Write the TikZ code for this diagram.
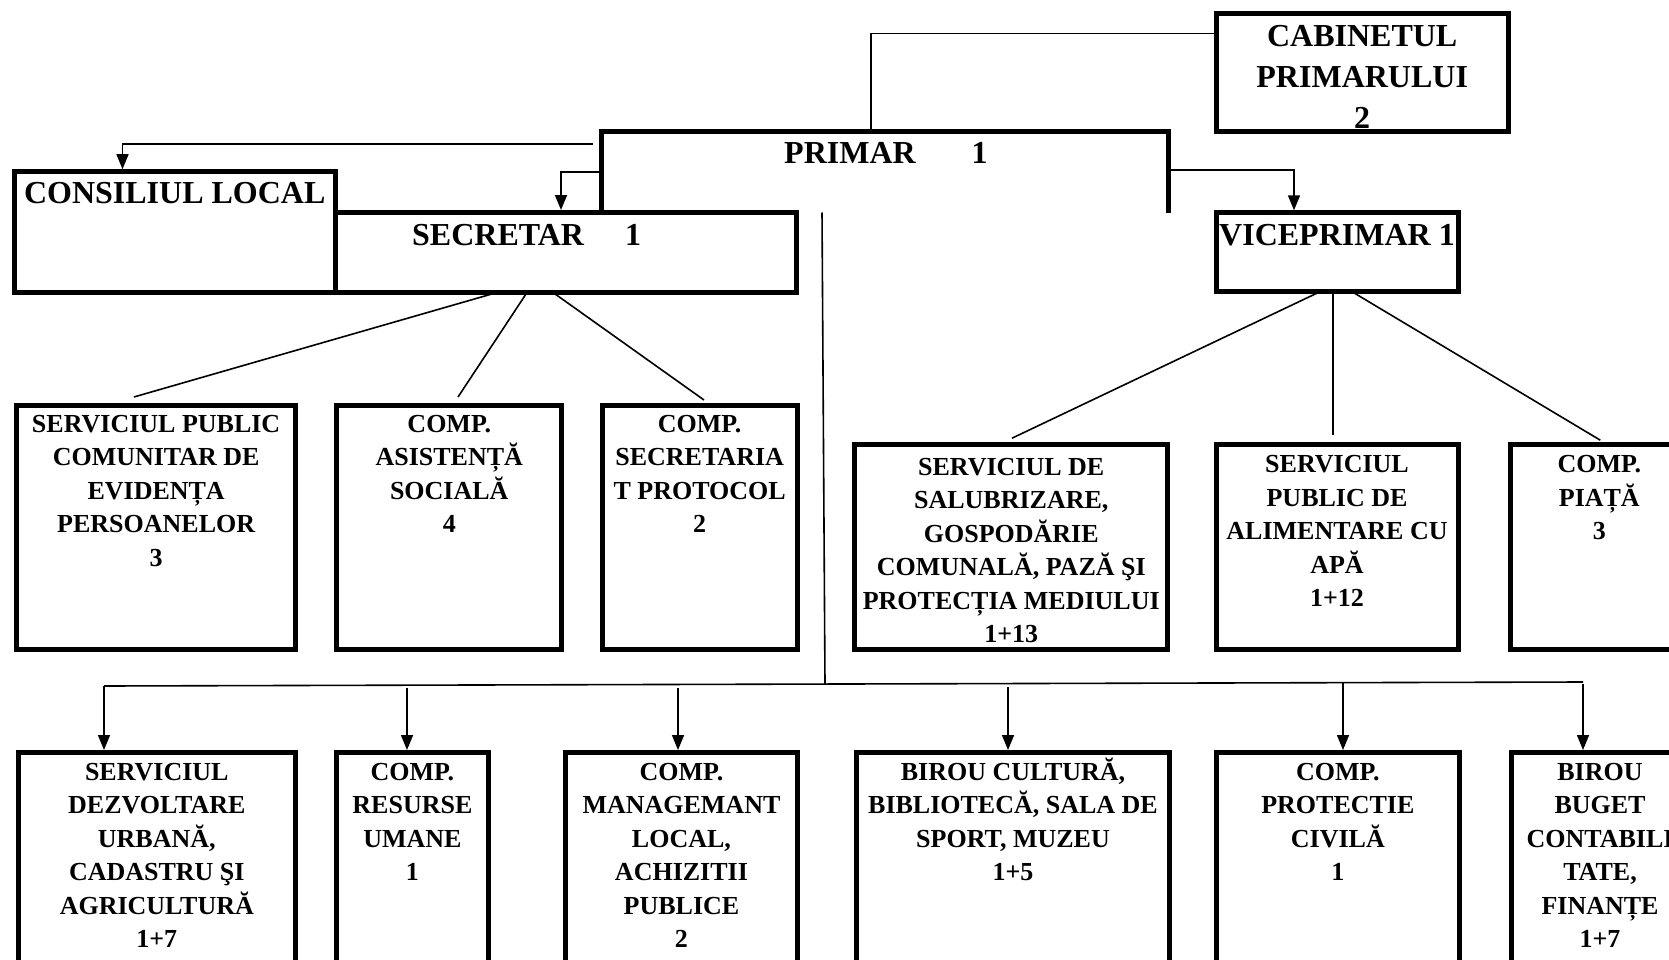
\documentclass[tikz,border=0pt]{standalone}
\usepackage{fontspec}
\setmainfont{Liberation Serif}
\usetikzlibrary{arrows.meta}
\begin{document}
\begin{tikzpicture}[x=1pt,y=-1pt,
  box/.style={draw, line width=5pt, inner sep=0pt, outer sep=0pt, anchor=north west},
  openbox/.style={inner sep=0pt, outer sep=0pt, anchor=north west},
  boxline/.style={line width=5pt},
  conn/.style={line width=1.6pt},
  arr/.style={line width=1.6pt, -{Triangle[length=15pt,width=12pt]}},
  big/.style={inner sep=0pt, anchor=north, align=center, font=\bfseries\fontsize{32}{41}\selectfont},
  small/.style={inner sep=0pt, anchor=north, align=center, font=\bfseries\fontsize{26}{33.5}\selectfont},
]
\useasboundingbox (0,0) rectangle (1669,960);
\fill[white] (0,0) rectangle (1669,960);
\clip (0,0) rectangle (1669,960);

% top level boxes
\node[box, minimum width=320.5pt, minimum height=120.8pt] (consiliul) at (14.5,171.7) {};
\node[box, minimum width=461pt, minimum height=80pt] (secretar) at (335,212.5) {};
\node[openbox, minimum width=567pt, minimum height=80.7pt] (primar) at (601,131.8) {};
\draw[boxline] (primar.south west) -- (primar.north west) -- (primar.north east) -- (primar.south east);
\node[box, minimum width=292.4pt, minimum height=118pt] (cabinet) at (1216,13.7) {};
\node[box, minimum width=242pt, minimum height=78.9pt] (vice) at (1216,212.8) {};

% second row
\node[box, minimum width=278.5pt, minimum height=244.7pt] (A) at (16.9,405) {};
\node[box, minimum width=225.3pt, minimum height=244.7pt] (B) at (336.6,405) {};
\node[box, minimum width=195.3pt, minimum height=244.7pt] (C) at (602,405) {};
\node[box, minimum width=313.3pt, minimum height=205.5pt] (D) at (854.6,444.2) {};
\node[box, minimum width=242pt, minimum height=205.5pt] (E) at (1216,444.2) {};
\node[box, minimum width=178pt, minimum height=205.5pt] (F) at (1510.3,444.2) {};

% bottom row
\node[box, minimum width=277.2pt, minimum height=240pt] (G) at (18.2,752.5) {};
\node[box, minimum width=151.6pt, minimum height=240pt] (H) at (336.6,752.5) {};
\node[box, minimum width=231.7pt, minimum height=240pt] (I) at (565.6,752.5) {};
\node[box, minimum width=312.4pt, minimum height=240pt] (J) at (856.8,752.5) {};
\node[box, minimum width=242.3pt, minimum height=240pt] (K) at (1216.7,752.5) {};
\node[box, minimum width=178pt, minimum height=240pt] (L) at (1511,752.5) {};

% texts
\node[big] (tCons) at ([yshift=-3pt]consiliul.north) {\strut CONSILIUL LOCAL};
\node[big, anchor=north west] (tSec) at ([xshift=77pt,yshift=-3.8pt]secretar.north west) {\strut SECRETAR\hspace*{41pt}1};
\node[big, anchor=north west] (tPrim) at ([xshift=183pt,yshift=-2.8pt]primar.north west) {\strut PRIMAR\hspace*{56pt}1};
\node[big] (tCab) at ([yshift=-3.6pt]cabinet.north) {\strut CABINETUL\\PRIMARULUI\\2};
\node[big] (tVice) at ([yshift=-3.5pt]vice.north) {\strut VICEPRIMAR 1};

\node[small] (tA) at ([yshift=-3.5pt]A.north) {\strut SERVICIUL PUBLIC\\COMUNITAR DE\\EVIDENȚA\\PERSOANELOR\\3};
\node[small] (tB) at ([yshift=-3.5pt]B.north) {\strut COMP.\\ASISTENȚĂ\\SOCIALĂ\\4};
\node[small] (tC) at ([yshift=-3.5pt]C.north) {\strut COMP.\\SECRETARIA\\T PROTOCOL\\2};
\node[small] (tD) at ([yshift=-7.3pt]D.north) {\strut SERVICIUL DE\\SALUBRIZARE,\\GOSPODĂRIE\\COMUNALĂ, PAZĂ ŞI\\PROTECȚIA MEDIULUI\\1+13};
\node[small] (tE) at ([yshift=-4.8pt]E.north) {\strut SERVICIUL\\PUBLIC DE\\ALIMENTARE CU\\APĂ\\1+12};
\node[small] (tF) at ([yshift=-4.8pt]F.north) {\strut COMP.\\PIAȚĂ\\3};

\node[small] (tG) at ([yshift=-4pt]G.north) {\strut SERVICIUL\\DEZVOLTARE\\URBANĂ,\\CADASTRU ŞI\\AGRICULTURĂ\\1+7};
\node[small] (tH) at ([yshift=-4pt]H.north) {\strut COMP.\\RESURSE\\UMANE\\1};
\node[small] (tI) at ([yshift=-4pt]I.north) {\strut COMP.\\MANAGEMANT\\LOCAL,\\ACHIZITII\\PUBLICE\\2};
\node[small] (tJ) at ([yshift=-4pt]J.north) {\strut BIROU CULTURĂ,\\BIBLIOTECĂ, SALA DE\\SPORT, MUZEU\\1+5};
\node[small] (tK) at ([yshift=-4pt]K.north) {\strut COMP.\\PROTECTIE\\CIVILĂ\\1};
\node[small] (tL) at ([yshift=-4pt]L.north) {\strut BIROU\\BUGET\\CONTABILI\\TATE,\\FINANȚE\\1+7};

% connectors from PRIMAR
\draw[conn] ([xshift=270pt]primar.north west) |- ([yshift=-20pt]cabinet.north west);
\draw[arr] ([xshift=-8pt,yshift=-12pt]primar.north west) -| ([xshift=108pt,yshift=2.5pt]consiliul.north west);
\draw[arr] ([yshift=-40pt]primar.north west) -| ([xshift=226pt,yshift=2.5pt]secretar.north west);
\draw[arr] ([yshift=-38pt]primar.north east) -| ([xshift=78pt,yshift=2.5pt]vice.north west);

% bus to bottom row
\coordinate (busL) at (104,686);
\coordinate (busR) at (1583,682);
\coordinate (busM) at (825,684.5);
\draw[conn] ([xshift=221pt]primar.south west) -- (busM);
\draw[conn] (busL) -- (busR);
\coordinate (gT) at ([xshift=85.8pt,yshift=2.5pt]G.north west);
\coordinate (hT) at ([xshift=70.4pt,yshift=2.5pt]H.north west);
\coordinate (iT) at ([xshift=112.4pt,yshift=2.5pt]I.north west);
\coordinate (jT) at ([xshift=151.2pt,yshift=2.5pt]J.north west);
\coordinate (kT) at ([xshift=126.3pt,yshift=2.5pt]K.north west);
\coordinate (lT) at ([xshift=72pt,yshift=2.5pt]L.north west);
\draw[arr] (gT |- busL) -- (gT);
\draw[arr] ([yshift=-2pt]hT |- busL) -- (hT);
\draw[arr] ([yshift=-2pt]iT |- busL) -- (iT);
\draw[arr] ([yshift=-2pt]jT |- busM) -- (jT);
\draw[arr] (kT |- busR) -- (kT);
\draw[arr] ([yshift=-2pt]lT |- busR) -- (lT);

% secretar children
\draw[conn] ([xshift=162pt]secretar.south west) -- ([xshift=117pt,yshift=8pt]A.north west);
\draw[conn] ([xshift=192pt]secretar.south west) -- ([xshift=121.4pt,yshift=8pt]B.north west);
\draw[conn] ([xshift=218pt]secretar.south west) -- ([xshift=102pt,yshift=5pt]C.north west);

% viceprimar children
\draw[conn] ([xshift=104pt]vice.south west) -- ([xshift=157.4pt,yshift=6pt]D.north west);
\draw[conn] ([xshift=117pt]vice.south west) -- ([xshift=117pt,yshift=9pt]E.north west);
\draw[conn] ([xshift=136pt]vice.south west) -- ([xshift=90pt,yshift=4pt]F.north west);
\end{tikzpicture}
\end{document}
